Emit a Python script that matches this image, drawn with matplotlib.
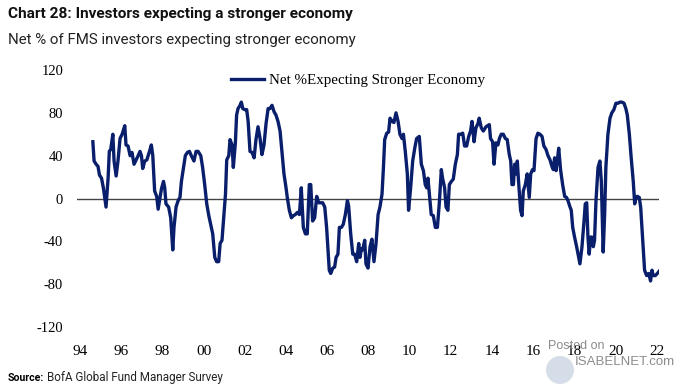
import matplotlib
matplotlib.use('Agg')
import matplotlib.pyplot as plt
from matplotlib.patches import Circle

# Data (decimal year, net % expecting stronger economy)
years = [
    1994.62, 1994.68, 1994.78, 1994.87, 1994.94, 1995.04, 1995.13, 1995.26, 1995.36, 1995.42,
    1995.49, 1995.59, 1995.65, 1995.75, 1995.84, 1995.94, 1996.04, 1996.17, 1996.23, 1996.33,
    1996.43, 1996.52, 1996.62, 1996.72, 1996.82, 1996.91, 1996.98, 1997.04, 1997.14, 1997.24,
    1997.37, 1997.46, 1997.53, 1997.62, 1997.72, 1997.79, 1997.88, 1997.95, 1998.05, 1998.11,
    1998.17, 1998.30, 1998.40, 1998.50, 1998.56, 1998.66, 1998.76, 1998.85, 1998.92, 1999.02,
    1999.11, 1999.21, 1999.31, 1999.40, 1999.53, 1999.63, 1999.73, 1999.86, 1999.95, 2000.05,
    2000.15, 2000.25, 2000.34, 2000.44, 2000.54, 2000.63, 2000.73, 2000.80, 2000.89, 2000.96,
    2001.06, 2001.12, 2001.22, 2001.28, 2001.38, 2001.44, 2001.54, 2001.60, 2001.67, 2001.77,
    2001.83, 2001.90, 2001.99, 2002.09, 2002.16, 2002.25, 2002.35, 2002.45, 2002.54, 2002.64,
    2002.74, 2002.83, 2002.93, 2003.03, 2003.13, 2003.22, 2003.32, 2003.42, 2003.51, 2003.61,
    2003.71, 2003.80, 2003.90, 2004.00, 2004.06, 2004.16, 2004.26, 2004.36, 2004.45, 2004.55,
    2004.65, 2004.74, 2004.84, 2004.94, 2005.03, 2005.13, 2005.20, 2005.29, 2005.39, 2005.49,
    2005.59, 2005.68, 2005.78, 2005.88, 2005.97, 2006.10, 2006.17, 2006.27, 2006.36, 2006.43,
    2006.52, 2006.59, 2006.69, 2006.78, 2006.88, 2006.98, 2007.04, 2007.14, 2007.24, 2007.33,
    2007.43, 2007.53, 2007.59, 2007.66, 2007.72, 2007.82, 2007.88, 2007.98, 2008.08, 2008.17,
    2008.27, 2008.37, 2008.47, 2008.56, 2008.66, 2008.73, 2008.79, 2008.89, 2008.98, 2009.05,
    2009.15, 2009.24, 2009.34, 2009.44, 2009.53, 2009.63, 2009.70, 2009.79, 2009.89, 2009.95,
    2010.05, 2010.15, 2010.25, 2010.34, 2010.47, 2010.57, 2010.67, 2010.76, 2010.83, 2010.89,
    2010.96, 2011.05, 2011.15, 2011.25, 2011.35, 2011.44, 2011.54, 2011.60, 2011.70, 2011.77,
    2011.86, 2011.93, 2012.03, 2012.12, 2012.22, 2012.32, 2012.38, 2012.48, 2012.58, 2012.67,
    2012.77, 2012.87, 2012.96, 2013.03, 2013.13, 2013.22, 2013.32, 2013.38, 2013.48, 2013.58,
    2013.71, 2013.87, 2013.93, 2014.03, 2014.10, 2014.19, 2014.29, 2014.36, 2014.45, 2014.55,
    2014.65, 2014.74, 2014.84, 2014.91, 2014.97, 2015.04, 2015.10, 2015.17, 2015.23, 2015.29,
    2015.39, 2015.46, 2015.52, 2015.62, 2015.71, 2015.81, 2015.88, 2015.97, 2016.04, 2016.14,
    2016.23, 2016.33, 2016.43, 2016.52, 2016.62, 2016.72, 2016.82, 2016.91, 2016.98, 2017.04,
    2017.11, 2017.17, 2017.24, 2017.33, 2017.43, 2017.53, 2017.62, 2017.69, 2017.79, 2017.85,
    2017.92, 2018.01, 2018.11, 2018.21, 2018.27, 2018.37, 2018.47, 2018.53, 2018.60, 2018.66,
    2018.72, 2018.79, 2018.85, 2018.92, 2018.98, 2019.05, 2019.15, 2019.24, 2019.31, 2019.40,
    2019.47, 2019.53, 2019.63, 2019.73, 2019.82, 2019.92, 2020.02, 2020.12, 2020.21, 2020.31,
    2020.41, 2020.50, 2020.57, 2020.67, 2020.76, 2020.86, 2020.93, 2020.99, 2021.05, 2021.15,
    2021.22, 2021.28, 2021.35, 2021.41, 2021.51, 2021.61, 2021.70, 2021.77, 2021.83, 2021.93,
    2022.03, 2022.11,
]
net_pct = [
    53, 35, 32, 30, 22, 19, 10, -8, 19, 44,
    46, 60, 35, 21, 35, 56, 60, 68, 50, 49,
    40, 43, 32, 36, 40, 44, 40, 28, 35, 36,
    44, 50, 40, 7, 2, -10, 1, 9, 16, 10,
    -5, -8, -18, -48, -27, -8, -2, 1, 16, 29,
    40, 43, 44, 40, 35, 44, 44, 40, 29, 13,
    -5, -16, -24, -33, -55, -59, -59, -42, -39, -21,
    4, 36, 40, 55, 50, 29, 52, 78, 84, 87,
    90, 84, 83, 83, 72, 44, 43, 38, 55, 67,
    56, 41, 50, 70, 84, 84, 87, 81, 78, 72,
    63, 44, 23, 10, 1, -11, -18, -16, -15, -13,
    -15, 10, -27, -33, -33, 13, 13, -21, -18, 2,
    -4, -4, -4, -8, -27, -67, -70, -65, -64, -55,
    -52, -27, -27, -24, -15, -2, -7, -33, -52, -52,
    -59, -42, -55, -47, -48, -39, -61, -65, -45, -38,
    -59, -42, -15, -8, 4, 29, 55, 61, 62, 75,
    72, 71, 80, 72, 60, 56, 60, 44, 23, -11,
    10, 35, 47, 56, 58, 32, 26, 13, 10, 19,
    4, -15, -16, -27, -27, -5, 27, 19, 10, -8,
    -11, 13, 16, 18, 32, 41, 60, 60, 61, 49,
    49, 58, 63, 72, 53, 66, 70, 75, 66, 63,
    67, 69, 56, 53, 32, 52, 50, 56, 60, 60,
    56, 55, 41, 35, 13, 13, 32, 23, 35, 16,
    -11, -16, 7, 13, 23, 1, 23, 27, 26, 56,
    61, 60, 58, 49, 46, 40, 36, 30, 27, 38,
    26, 35, 47, 27, 13, 2, 1, -2, -8, -11,
    -27, -36, -45, -55, -61, -45, -21, -5, -4, -36,
    -52, -36, -36, -45, -39, -2, 29, 35, 16, -50,
    -15, 29, 60, 75, 80, 83, 89, 89, 90, 90,
    89, 84, 78, 60, 38, 16, -5, 1, 2, 1,
    -8, -27, -48, -67, -72, -70, -77, -67, -72, -72,
    -70, -68,
]

tick_years = list(range(1994, 2023, 2))
tick_labels = [f"{y % 100:02d}" for y in tick_years]
y_ticks = [120, 80, 40, 0, -40, -80, -120]

line_color = '#0a1f6b'
serif = ['Liberation Serif', 'DejaVu Serif']
sans = ['Roboto', 'DejaVu Sans']

W, H = 700, 390
fig = plt.figure(figsize=(7, 3.9), dpi=100)
ax = fig.add_axes([77 / W, 1 - 327 / H, 582 / W, 257 / H])

ax.axhline(0, color='#444444', lw=1.0, zorder=1)
ax.plot(years, net_pct, color=line_color, lw=2.4, solid_joinstyle='round',
        label='Net %Expecting Stronger Economy', zorder=2)

ax.set_xlim(1993.85, 2022.11)
ax.set_ylim(-120, 120)
ax.set_xticks(tick_years)
ax.set_xticklabels(tick_labels, fontfamily=serif, fontsize=11)
ax.set_yticks(y_ticks)
ax.set_yticklabels([str(v) for v in y_ticks], fontfamily=serif, fontsize=10.5)
ax.tick_params(axis='both', length=0)
ax.tick_params(axis='x', pad=13)
ax.tick_params(axis='y', pad=10)
for s in ax.spines.values():
    s.set_visible(False)

# legend
ax.legend(loc='center left', bbox_to_anchor=(231 / W, 1 - 80 / H),
          bbox_transform=fig.transFigure, frameon=False, borderpad=0,
          borderaxespad=0, handlelength=2.2, handletextpad=0.35,
          prop={'family': serif, 'size': 10.8})


def fit_text(x, y, s, target_w, **kw):
    # draw a text and shrink/grow it so that it spans target_w pixels
    t = fig.text(x / W, 1 - y / H, s, va='center', ha='left', **kw)
    r = fig.canvas.get_renderer()
    w = t.get_window_extent(renderer=r).width
    t.set_fontsize(t.get_fontsize() * target_w / w)
    return t


# titles
fit_text(8, 14, 'Chart 28: Investors expecting a stronger economy', 344,
         fontfamily=sans, fontweight='bold', fontsize=12, color='#111111')
fit_text(8, 40, 'Net % of FMS investors expecting stronger economy', 347,
         fontfamily=sans, fontsize=11, color='#222222')

# source
src = fit_text(8, 378, 'Source:', 36, fontfamily=sans, fontweight='bold', fontsize=8)
fig.canvas.draw()
bb = src.get_window_extent(renderer=fig.canvas.get_renderer())
fit_text(bb.x1 + 3, 378, 'BofA Global Fund Manager Survey', 176,
         fontfamily=sans, fontsize=8, color='#222222')

# watermark
fig.patches.append(Circle((5.6, 0.2), 0.14, transform=fig.dpi_scale_trans,
                          facecolor='#b9c8da', edgecolor='none', alpha=0.6))
fig.text(548 / W, 1 - 346 / H, 'Posted on', fontfamily=['Liberation Sans', 'DejaVu Sans'],
         fontsize=9, color='#8c8c8c', va='center', ha='left')
fig.text(575 / W, 1 - 362 / H, 'ISABELNET.com', fontfamily=['Liberation Sans', 'DejaVu Sans'],
         fontsize=9.5, color='#8c8c8c', va='center', ha='left')

plt.savefig('out.png', dpi=100)
plt.close()
